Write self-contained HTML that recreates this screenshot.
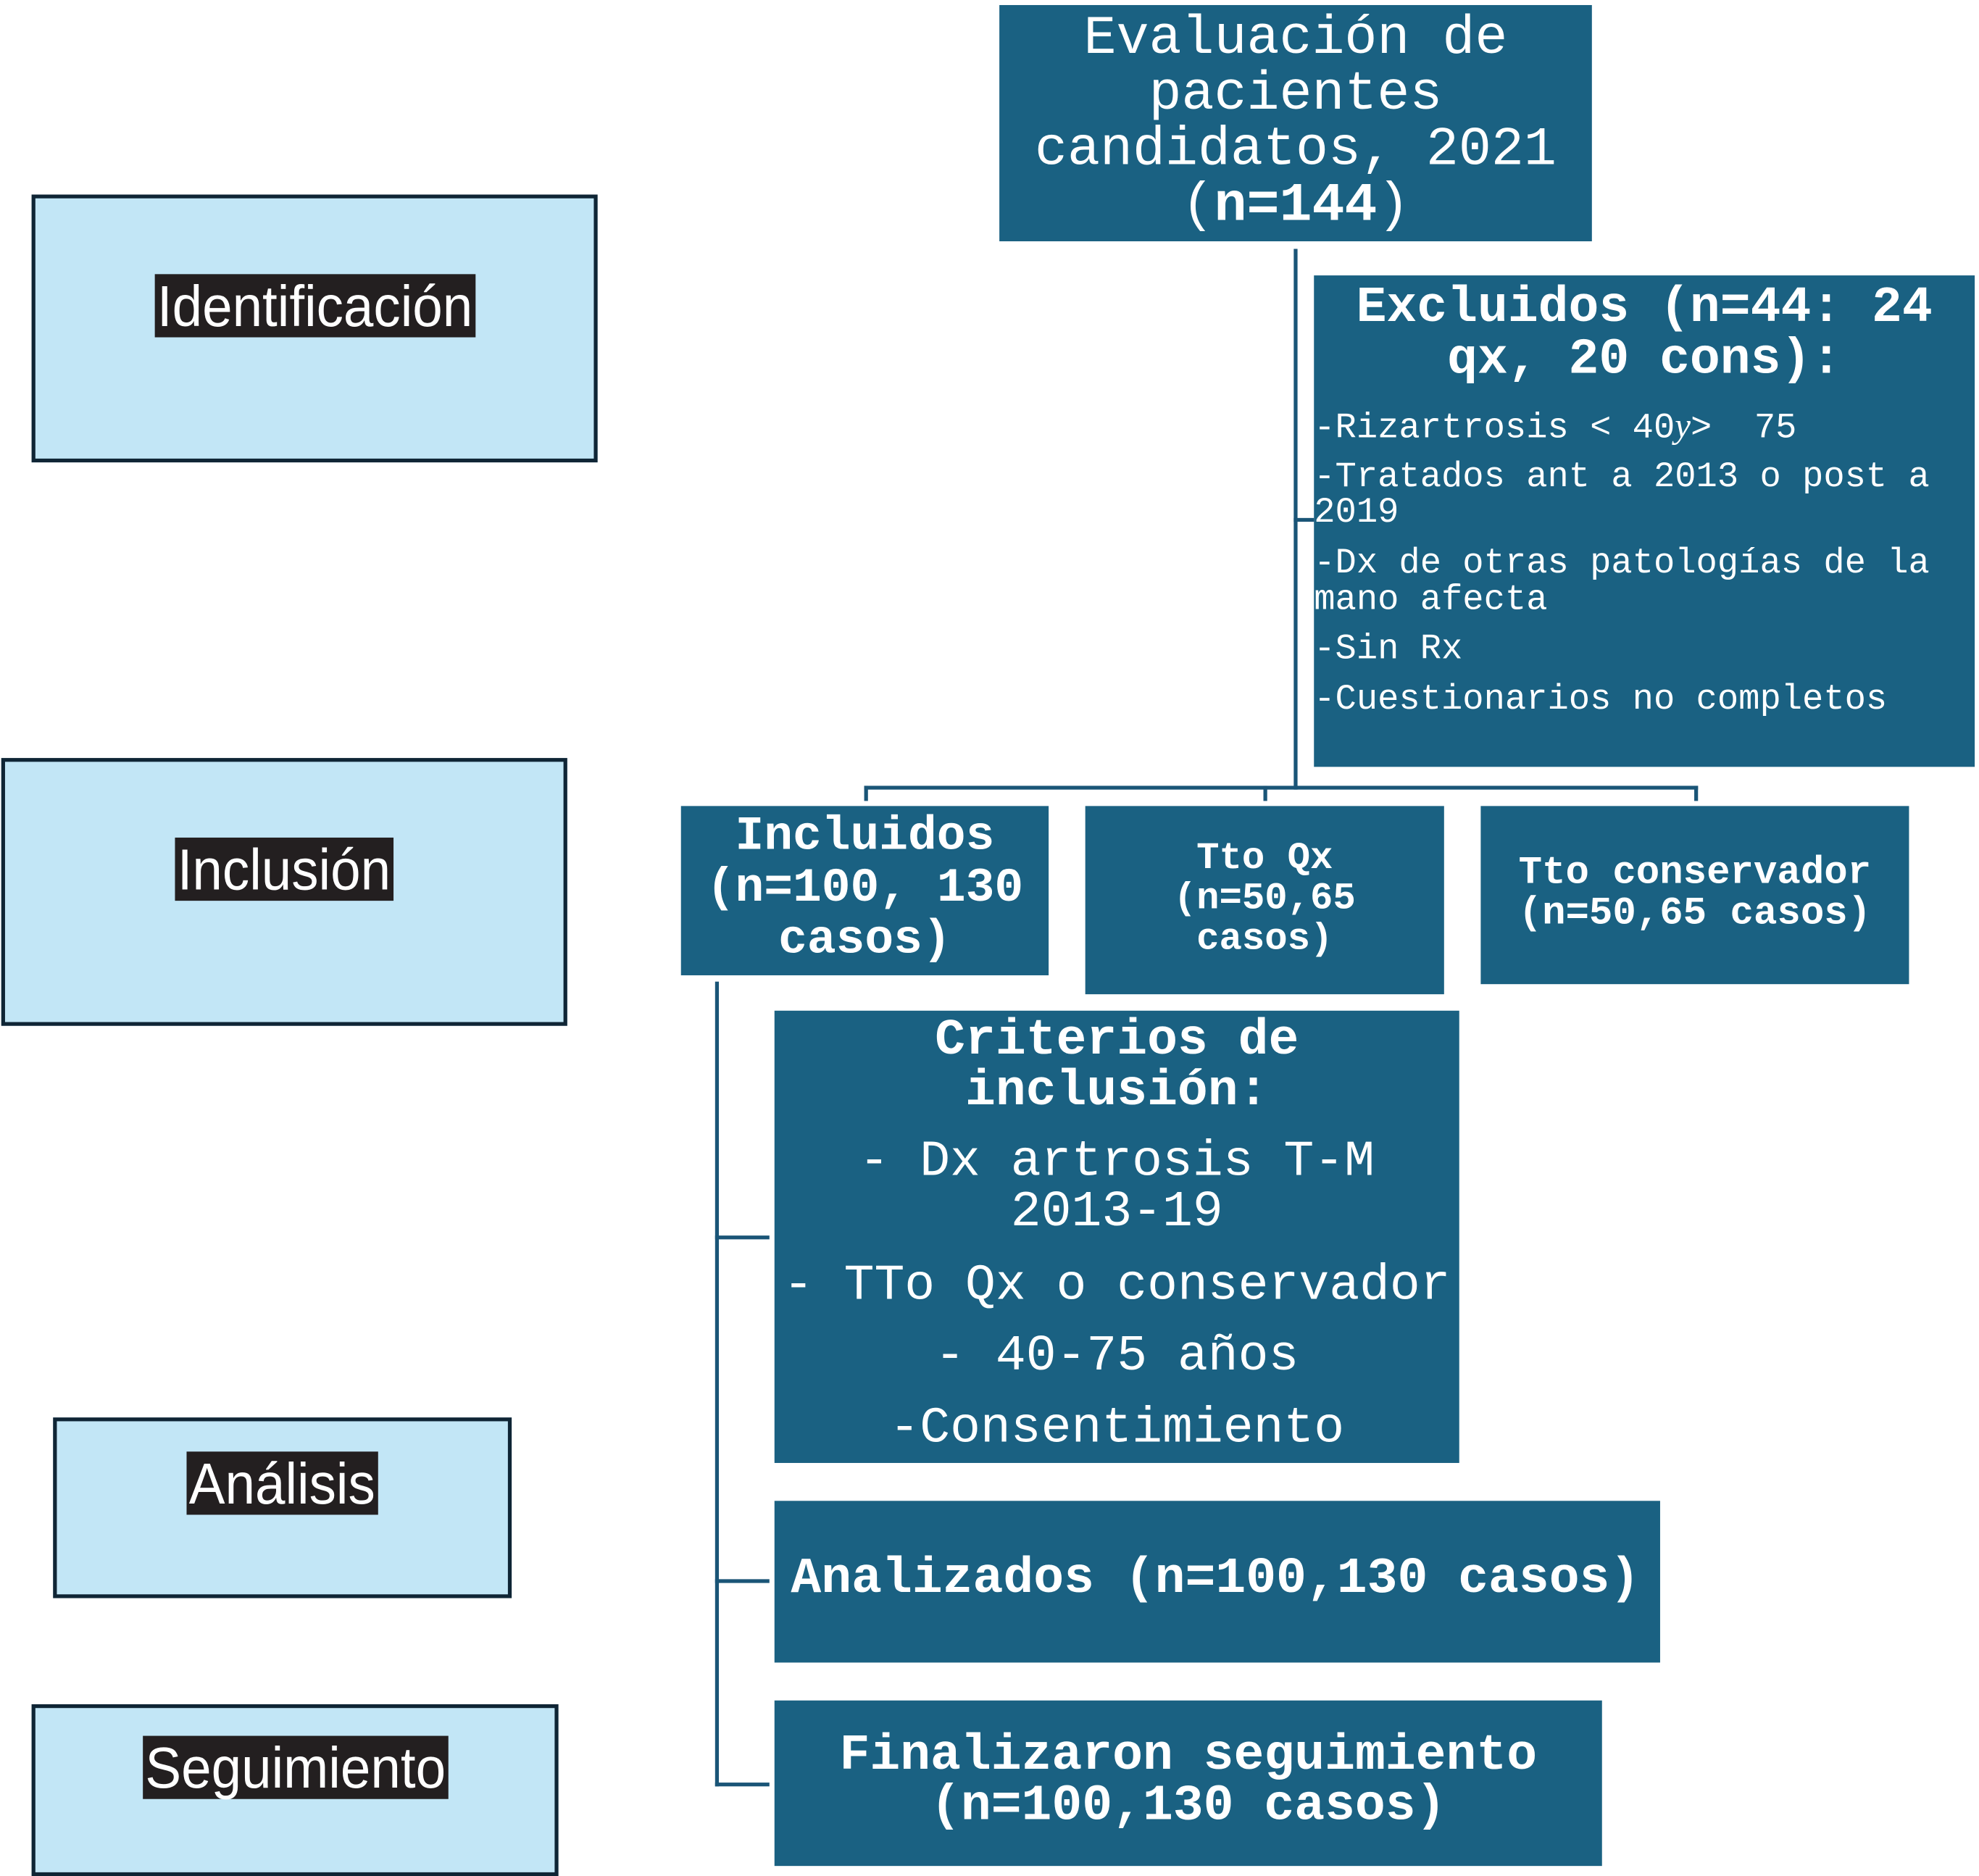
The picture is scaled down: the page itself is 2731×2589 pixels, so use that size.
<!DOCTYPE html>
<html><head><meta charset="utf-8"><style>
html,body{margin:0;padding:0;background:#fff;overflow:hidden;width:2731px;height:2589px}
#c{position:absolute;left:0;top:0;width:1565px;height:1484px;transform:scale(1.7435);transform-origin:0 0}
.b{position:absolute;background:#1a6182}
.l{position:absolute;background:#c2e6f6;border:3.5px solid #0f2535;box-sizing:border-box}
.t{position:absolute;color:#fff;font-family:"Liberation Mono",monospace;white-space:pre;text-align:center;height:50px;line-height:50px}
.bd{font-weight:bold}
.ln{position:absolute;background:#1a5577}
.lab{position:absolute;left:0;right:0;text-align:center;height:50px}
.lab span{display:inline-block;background:#231f20;color:#fff;font-family:"Liberation Sans",sans-serif;font-size:46px;line-height:50px;height:50px;transform:scaleX(0.93);padding:0 2px}
</style></head><body><div id="c">
<div class="l" style="left:25px;top:154px;width:448px;height:212px"><div class="lab" style="top:60px"><span>Identificación</span></div></div>
<div class="l" style="left:1px;top:600px;width:448px;height:212px"><div class="lab" style="top:60px"><span>Inclusión</span></div></div>
<div class="l" style="left:42px;top:1122px;width:363px;height:143px"><div class="lab" style="top:24px"><span>Análisis</span></div></div>
<div class="l" style="left:25px;top:1349px;width:417px;height:136px"><div class="lab" style="top:22px"><span>Seguimiento</span></div></div>

<div class="ln" style="left:1024px;top:197px;width:3px;height:428px"></div>
<div class="ln" style="left:1024px;top:410px;width:16px;height:3px"></div>
<div class="ln" style="left:684px;top:622px;width:660px;height:3px"></div>
<div class="ln" style="left:684px;top:622px;width:3px;height:12px"></div>
<div class="ln" style="left:1000px;top:622px;width:3px;height:12px"></div>
<div class="ln" style="left:1341px;top:622px;width:3px;height:12px"></div>
<div class="ln" style="left:566px;top:777px;width:3px;height:637px"></div>
<div class="ln" style="left:566px;top:978px;width:43px;height:3px"></div>
<div class="ln" style="left:566px;top:1250px;width:43px;height:3px"></div>
<div class="ln" style="left:566px;top:1411px;width:43px;height:3px"></div>

<div class="b" style="left:791px;top:4px;width:469px;height:187px"></div>
<div class="t" style="left:791px;width:469px;top:6px;font-size:43px">Evaluación de</div>
<div class="t" style="left:791px;width:469px;top:50px;font-size:43px">pacientes</div>
<div class="t" style="left:791px;width:469px;top:94px;font-size:43px">candidatos, 2021</div>
<div class="t" style="left:791px;width:469px;top:138px;font-size:43px">(<b>n=144</b>)</div>

<div class="b" style="left:1040px;top:218px;width:523px;height:389px"></div>
<div class="t bd" style="left:1040px;width:523px;top:220px;font-size:40px">Excluidos (n=44: 24</div>
<div class="t bd" style="left:1040px;width:523px;top:261px;font-size:40px">qx, 20 cons):</div>
<div class="t" style="left:1040px;top:313px;font-size:28px;text-align:left">-Rizartrosis &lt; 40<i style="font-family:'Liberation Serif',serif">y</i>&gt;  75</div>
<div class="t" style="left:1040px;top:354px;font-size:28px;text-align:left">-Tratados ant a 2013 o post a</div>
<div class="t" style="left:1040px;top:382px;font-size:28px;text-align:left">2019</div>
<div class="t" style="left:1040px;top:422px;font-size:28px;text-align:left">-Dx de otras patologías de la</div>
<div class="t" style="left:1040px;top:451px;font-size:28px;text-align:left">mano afecta</div>
<div class="t" style="left:1040px;top:490px;font-size:28px;text-align:left">-Sin Rx</div>
<div class="t" style="left:1040px;top:530px;font-size:28px;text-align:left">-Cuestionarios no completos</div>

<div class="b" style="left:539px;top:638px;width:291px;height:134px"></div>
<div class="t bd" style="left:539px;width:291px;top:638px;font-size:38px">Incluidos</div>
<div class="t bd" style="left:539px;width:291px;top:679px;font-size:38px">(n=100, 130</div>
<div class="t bd" style="left:539px;width:291px;top:720px;font-size:38px">casos)</div>

<div class="b" style="left:859px;top:638px;width:284px;height:149px"></div>
<div class="t bd" style="left:859px;width:284px;top:655px;font-size:30px">Tto Qx</div>
<div class="t bd" style="left:859px;width:284px;top:687px;font-size:30px">(n=50,65</div>
<div class="t bd" style="left:859px;width:284px;top:719px;font-size:30px">casos)</div>

<div class="b" style="left:1172px;top:638px;width:339px;height:141px"></div>
<div class="t bd" style="left:1172px;width:339px;top:667px;font-size:31px">Tto conservador</div>
<div class="t bd" style="left:1172px;width:339px;top:699px;font-size:31px">(n=50,65 casos)</div>

<div class="b" style="left:613px;top:800px;width:542px;height:358px"></div>
<div class="t bd" style="left:613px;width:542px;top:800px;font-size:40px">Criterios de</div>
<div class="t bd" style="left:613px;width:542px;top:840px;font-size:40px">inclusión:</div>
<div class="t" style="left:613px;width:542px;top:896px;font-size:40px">- Dx artrosis T-M</div>
<div class="t" style="left:613px;width:542px;top:936px;font-size:40px">2013-19</div>
<div class="t" style="left:613px;width:542px;top:994px;font-size:40px">- TTo Qx o conservador</div>
<div class="t" style="left:613px;width:542px;top:1050px;font-size:40px">- 40-75 años</div>
<div class="t" style="left:613px;width:542px;top:1107px;font-size:40px">-Consentimiento</div>

<div class="b" style="left:613px;top:1188px;width:701px;height:128px"></div>
<div class="t bd" style="left:626px;top:1226px;font-size:40px;text-align:left">Analizados (n=100,130 casos)</div>

<div class="b" style="left:613px;top:1346px;width:655px;height:131px"></div>
<div class="t bd" style="left:613px;width:655px;top:1366px;font-size:40px">Finalizaron seguimiento</div>
<div class="t bd" style="left:613px;width:655px;top:1406px;font-size:40px">(n=100,130 casos)</div>
</div></body></html>
